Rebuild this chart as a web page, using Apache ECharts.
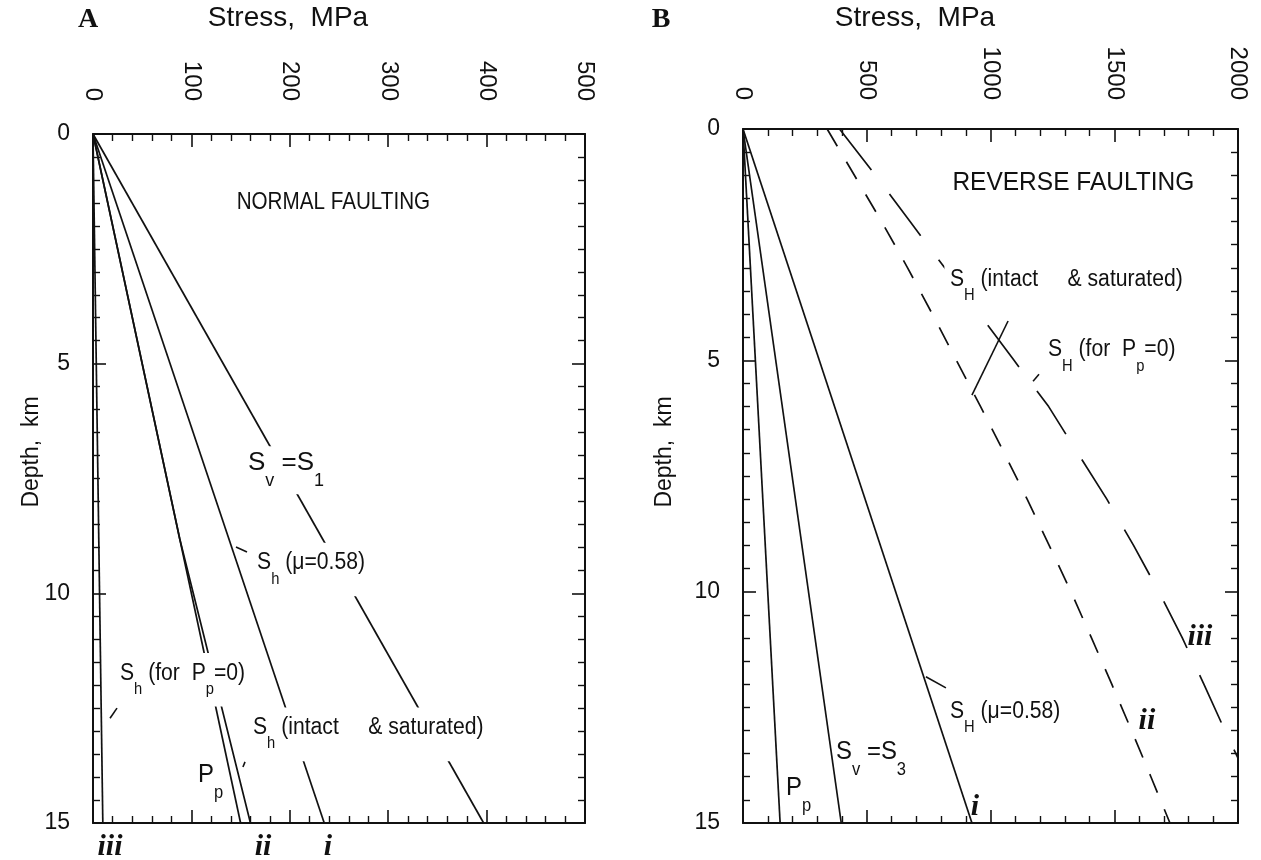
<!DOCTYPE html>
<html>
<head>
<meta charset="utf-8">
<title>Stress versus depth: normal and reverse faulting</title>
<script src="https://cdn.jsdelivr.net/npm/echarts@6/dist/echarts.min.js"></script>
<style>
  html, body { margin: 0; padding: 0; background: #ffffff; }
  #chart { width: 1261px; height: 860px; }
</style>
</head>
<body>
<div id="chart"></div>
<script>
// ---------------- Data: stress (MPa) against depth (km) ----------------

// Panel A, normal faulting
const depthEndsA = [0, 15];
const verticalStressA = [0, 397];        // S_v = S_1
const shFrictionA = [0, 235];            // S_h (mu = 0.58), case i
const porePressureA = [0, 150];          // P_p, hydrostatic
const shIntactDepthA = [0, 8.8, 15];
const shIntactA = [0, 88, 160];          // S_h (intact & saturated), case ii
const shDryA = [0, 10];                  // S_h (for P_p = 0), case iii

// Panel B, reverse faulting
const depthEndsB = [0, 15];
const porePressureB = [0, 150];          // P_p
const verticalStressB = [0, 397];        // S_v = S_3
const sHFrictionB = [0, 925];            // S_H (mu = 0.58), case i
const sHIntactDepthB = [0, 1, 2, 3, 4, 5, 6, 7, 8, 9, 10, 11, 12, 13, 14, 15];
const sHIntactB = [340, 450, 560, 665, 765, 862, 960, 1055, 1148, 1237, 1325, 1408, 1490, 1570, 1648, 1725]; // case ii
const sHDryDepthB = [0, 1, 2, 3, 4, 5, 6, 7, 8, 9, 10, 11, 12, 13, 13.6];
const sHDryB = [390, 535, 675, 815, 955, 1095, 1235, 1352, 1470, 1578, 1680, 1775, 1862, 1947, 2000];  // case iii

// Tick labels
const stressTicksA = [0, 100, 200, 300, 400, 500];
const stressTicksB = [0, 500, 1000, 1500, 2000];
const depthTicks = [0, 5, 10, 15];

// ---------------- Styling ----------------
const INK = '#111111';
const SANS = '"Liberation Sans", Arial, Helvetica, sans-serif';
const SERIF = '"Liberation Serif", "Times New Roman", serif';

const chart = echarts.init(document.getElementById('chart'), null, { renderer: 'canvas' });

function pairs(xs, ys) { return xs.map((x, i) => [x, ys[i]]); }

function xAxisFor(grid, position, ticks, labelMargin) {
  return {
    type: 'value', gridIndex: grid, position: position,
    min: ticks[0], max: ticks[ticks.length - 1], interval: ticks[1] - ticks[0],
    axisLine: { show: true, onZero: false, lineStyle: { color: INK, width: 2 } },
    axisTick: { show: true, inside: true, length: 13, lineStyle: { color: INK, width: 1.6 } },
    minorTick: { show: true, splitNumber: 5, length: 7, lineStyle: { color: INK, width: 1.4 } },
    splitLine: { show: false }, minorSplitLine: { show: false },
    axisLabel: {
      show: labelMargin != null, rotate: 90, margin: labelMargin || 0, color: INK,
      fontFamily: SANS, fontSize: 24, showMinLabel: true, showMaxLabel: true,
      formatter: function (v) { return String(v); }
    }
  };
}

function yAxisFor(grid, position, withLabels) {
  return {
    type: 'value', gridIndex: grid, position: position, inverse: true,
    min: depthTicks[0], max: depthTicks[depthTicks.length - 1], interval: depthTicks[1] - depthTicks[0],
    axisLine: { show: true, onZero: false, lineStyle: { color: INK, width: 2 } },
    axisTick: { show: true, inside: true, length: 13, lineStyle: { color: INK, width: 1.6 } },
    minorTick: { show: true, splitNumber: 10, length: 7, lineStyle: { color: INK, width: 1.4 } },
    splitLine: { show: false }, minorSplitLine: { show: false },
    axisLabel: {
      show: withLabels, margin: 23, color: INK,
      fontFamily: SANS, fontSize: 23, showMinLabel: true, showMaxLabel: true,
      formatter: function (v) { return String(v); }
    }
  };
}

function curve(grid, xs, ys, dash) {
  return {
    type: 'line', xAxisIndex: grid * 2, yAxisIndex: grid * 2,
    data: pairs(xs, ys), showSymbol: false, symbol: 'none', clip: true,
    lineStyle: { color: INK, width: 1.7, type: dash || 'solid' },
    silent: true, z: 3
  };
}

chart.setOption({
  animation: false,
  backgroundColor: '#ffffff',
  grid: [
    { left: 93, top: 134, width: 492, height: 689, containLabel: false, outerBoundsMode: 'none' },
    { left: 743, top: 129, width: 495, height: 694, containLabel: false, outerBoundsMode: 'none' }
  ],
  xAxis: [
    xAxisFor(0, 'top', stressTicksA, 33),
    xAxisFor(0, 'bottom', stressTicksA, null),
    xAxisFor(1, 'top', stressTicksB, 29),
    xAxisFor(1, 'bottom', stressTicksB, null)
  ],
  yAxis: [
    yAxisFor(0, 'left', true),
    yAxisFor(0, 'right', false),
    yAxisFor(1, 'left', true),
    yAxisFor(1, 'right', false)
  ],
  series: [
    curve(0, verticalStressA, depthEndsA),
    curve(0, shFrictionA, depthEndsA),
    curve(0, porePressureA, depthEndsA),
    curve(0, shIntactA, shIntactDepthA),
    curve(0, shDryA, depthEndsA),
    curve(1, porePressureB, depthEndsB),
    curve(1, verticalStressB, depthEndsB),
    curve(1, sHFrictionB, depthEndsB),
    curve(1, sHIntactB, sHIntactDepthB, [20, 18]),
    curve(1, sHDryB, sHDryDepthB, [52, 30])
  ]
});

// ---------------- Annotations (placed in stress/depth units) ----------------
// knock: white box behind the label that interrupts the curves it sits on
const annotationsA = [
  { at: [146, 1.48], parts: [['NORMAL FAULTING']], size: 24, squeeze: 0.86 },
  { at: [157.5, 7.16], parts: [['S'], ['v', 1], [' =S'], ['1', 1]], size: 26, squeeze: 1, knock: [4, 5] },
  { at: [166.7, 9.34], parts: [['S'], ['h', 1], [' (\u03bc=0.58)']], knock: [6, 10] },
  { at: [27.4, 11.74], parts: [['S'], ['h', 1], [' (for  P'], ['p', 1], ['=0)']], knock: [6, 10] },
  { at: [162.6, 12.93], parts: [['S'], ['h', 1], [' (intact     & saturated)']], knock: [6, 10] },
  { at: [106.7, 13.96], parts: [['P'], ['p', 1]], size: 26 }
];
const annotationsB = [
  { at: [846, 1.17], parts: [['REVERSE FAULTING']], size: 25, squeeze: 0.98 },
  { at: [836, 3.26], parts: [['S'], ['H', 1], [' (intact     & saturated)']], knock: [6, 10] },
  { at: [1232, 4.78], parts: [['S'], ['H', 1], [' (for  P'], ['p', 1], ['=0)']] },
  { at: [836, 12.6], parts: [['S'], ['H', 1], [' (\u03bc=0.58)']] },
  { at: [376, 13.46], parts: [['S'], ['v', 1], [' =S'], ['3', 1]], size: 26 },
  { at: [174, 14.24], parts: [['P'], ['p', 1]], size: 26 }
];
const leadersA = [
  [[145.3, 8.99], [156.5, 9.10]],
  [[17.3, 12.72], [24.4, 12.50]],
  [[152.4, 13.78], [154.5, 13.67]]
];
const leadersB = [
  [[1071, 4.15], [925, 5.75]],
  [[1172, 5.45], [1196, 5.30]],
  [[739, 11.84], [820, 12.08]]
];
const caseLabelsA = [
  { at: [17.3, 15.52], text: 'iii' },
  { at: [172.8, 15.52], text: 'ii' },
  { at: [238.8, 15.52], text: 'i' }
];
const caseLabelsB = [
  { at: [937, 14.67], text: 'i' },
  { at: [1632, 12.8], text: 'ii' },
  { at: [1846, 10.98], text: 'iii' }
];

const measureCtx = document.createElement('canvas').getContext('2d');
function textWidth(str, size, family) {
  measureCtx.font = size + 'px ' + family;
  return measureCtx.measureText(str).width;
}

function toPx(grid, pt) {
  return chart.convertToPixel({ xAxisIndex: grid * 2, yAxisIndex: grid * 2 }, pt);
}

function labelGroup(grid, spec) {
  const size = spec.size || 23;
  const subSize = Math.round(size * 0.68);
  const subDrop = size * 0.7;
  const squeeze = spec.squeeze || 0.92;
  const p = toPx(grid, spec.at);
  const kids = [];
  let x = 0;
  spec.parts.forEach(function (part) {
    const isSub = !!part[1];
    const fs = isSub ? subSize : size;
    kids.push({
      type: 'text', x: x, y: isSub ? subDrop : 0, z: 102, silent: true,
      style: { text: part[0], fontFamily: SANS, fontSize: fs, fill: INK, align: 'left', verticalAlign: 'middle' }
    });
    x += textWidth(part[0], fs, SANS);
  });
  if (spec.knock) {
    const padX = spec.knock[0], padY = spec.knock[1];
    const top = -size * 0.45 - padY;
    const bottom = subDrop + subSize * 0.45 + padY;
    kids.unshift({
      type: 'rect', z: 101, silent: true,
      shape: { x: -padX, y: top, width: x + 2 * padX, height: bottom - top },
      style: { fill: '#ffffff' }
    });
  }
  return { type: 'group', x: p[0], y: p[1], scaleX: squeeze, z: 101, children: kids };
}

function leader(grid, seg) {
  const a = toPx(grid, seg[0]);
  const b = toPx(grid, seg[1]);
  return {
    type: 'line', z: 103, silent: true,
    shape: { x1: a[0], y1: a[1], x2: b[0], y2: b[1] },
    style: { stroke: INK, lineWidth: 1.6 }
  };
}

function caseLabel(grid, spec) {
  const p = toPx(grid, spec.at);
  return {
    type: 'text', x: p[0], y: p[1], z: 103, silent: true,
    style: {
      text: spec.text, fontFamily: SERIF, fontWeight: 'bold', fontStyle: 'italic',
      fontSize: 30, fill: INK, align: 'center', verticalAlign: 'middle'
    }
  };
}

function plainText(x, y, text, opts, rotation) {
  return {
    type: 'text', x: x, y: y, rotation: rotation || 0, z: 103, silent: true,
    style: Object.assign({
      text: text, fontFamily: SANS, fontSize: 28, fill: INK, align: 'center', verticalAlign: 'middle'
    }, opts || {})
  };
}

const graphics = [];
annotationsA.forEach(s => graphics.push(labelGroup(0, s)));
annotationsB.forEach(s => graphics.push(labelGroup(1, s)));
leadersA.forEach(s => graphics.push(leader(0, s)));
leadersB.forEach(s => graphics.push(leader(1, s)));
caseLabelsA.forEach(s => graphics.push(caseLabel(0, s)));
caseLabelsB.forEach(s => graphics.push(caseLabel(1, s)));

// Panel letters and axis titles
graphics.push(plainText(88, 20, 'A', { fontFamily: SERIF, fontWeight: 'bold', fontSize: 28 }));
graphics.push(plainText(661, 20, 'B', { fontFamily: SERIF, fontWeight: 'bold', fontSize: 28 }));
graphics.push(plainText(288, 18, 'Stress,  MPa'));
graphics.push(plainText(915, 18, 'Stress,  MPa'));
graphics.push(plainText(32, 452, 'Depth,  km', { fontSize: 23 }, Math.PI / 2));
graphics.push(plainText(665, 452, 'Depth,  km', { fontSize: 23 }, Math.PI / 2));

chart.setOption({ graphic: graphics });
</script>
</body>
</html>
